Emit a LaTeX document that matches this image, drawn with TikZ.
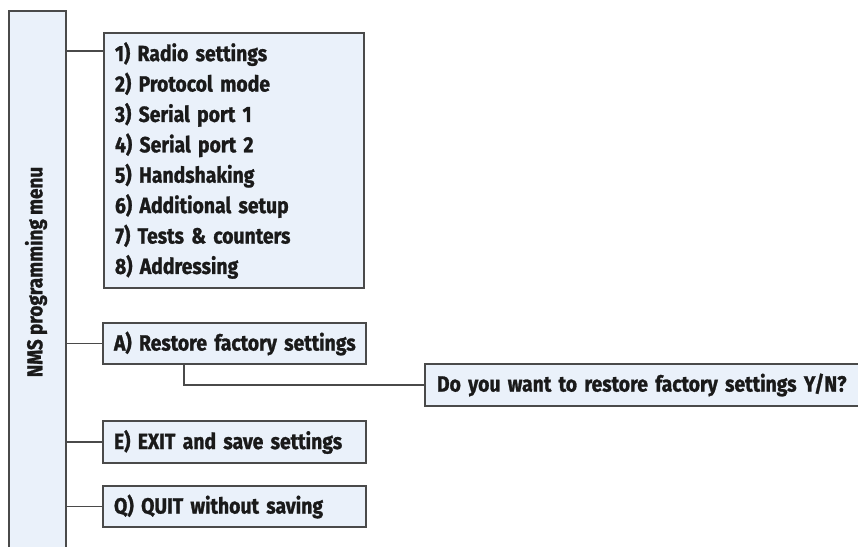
\documentclass[tikz,border=0pt]{standalone}
\usepackage{fontspec}
\newfontfamily\menufont{Fira Sans}[FakeStretch=0.88,FakeBold=1.2]
\newcommand\mymenufont{\menufont\bfseries\fontsize{22}{30.4}\selectfont\spaceskip=0.2em\relax\hyphenpenalty=10000\relax}
\newcommand\mylabelfont{\menufont\bfseries\fontsize{21.5}{22}\selectfont\spaceskip=0.2em\relax}
\definecolor{boxfill}{HTML}{EAF1FA}
\definecolor{boxline}{HTML}{4A4A4A}
\definecolor{txt}{HTML}{1A1A1A}
\begin{document}
\begin{tikzpicture}[x=1pt,y=-1pt,
  mbox/.style={draw=boxline,fill=boxfill,line width=1.8pt,rectangle,inner sep=0pt,
    font=\mymenufont,text=txt,align=left},
  conn/.style={draw=boxline,line width=1.8pt}]
\useasboundingbox (0,0) rectangle (858,546);
% left bar
\node[mbox,minimum width=57pt,minimum height=560pt] (bar) at (37.5,291) {};
\node[font=\mylabelfont,text=txt,rotate=90] (barlabel) at (36,272) {NMS programming menu};
% menu box
\node[mbox,minimum width=260pt,minimum height=255pt,text width=238pt] (menu) at (234,160.5) {1) Radio settings\\2) Protocol mode\\3) Serial port 1\\4) Serial port 2\\5) Handshaking\\6) Additional setup\\7) Tests \& counters\\8) Addressing};
\node[mbox,minimum width=263pt,minimum height=41pt,text width=241pt] (boxA) at (234.5,343.5) {\mbox{A) Restore factory settings}};
\node[mbox,minimum width=263pt,minimum height=42pt,text width=241pt] (boxE) at (234.5,442) {\mbox{E) EXIT and save settings}};
\node[mbox,minimum width=263pt,minimum height=41pt,text width=241pt] (boxQ) at (234.5,506.5) {\mbox{Q) QUIT without saving}};
\node[mbox,minimum width=437pt,minimum height=42pt,text width=413pt] (quest) at (643.5,385) {\mbox{Do you want to restore factory settings Y/N?}};
% connectors
\draw[conn] ([yshift=-19pt]menu.north west) coordinate (mj) -- (mj -| bar.east);
\draw[conn] (boxA.west) -- (boxA.west -| bar.east);
\draw[conn] (boxE.west) -- (boxE.west -| bar.east);
\draw[conn] (boxQ.west) -- (boxQ.west -| bar.east);
\draw[conn] ([xshift=-50.5pt]boxA.south) coordinate (aj) -- (aj |- quest.west) -- (quest.west);
\end{tikzpicture}
\end{document}
